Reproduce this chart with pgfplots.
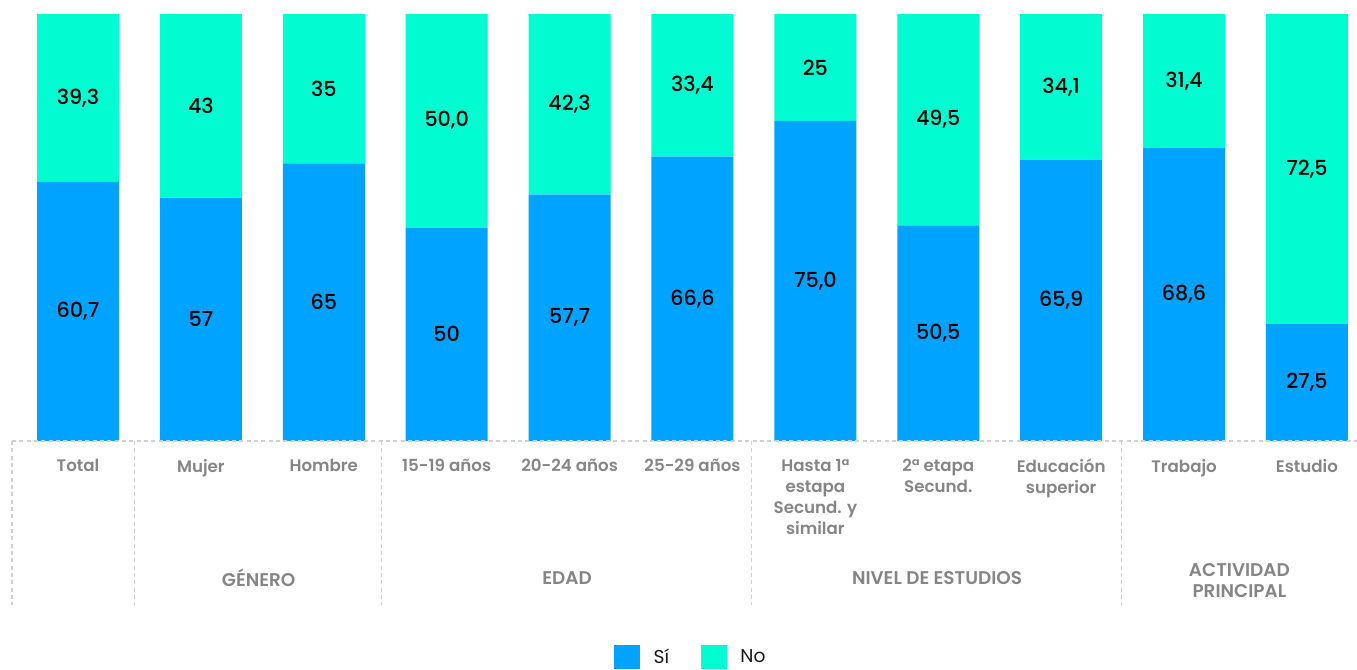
\documentclass[border=0pt]{standalone}
\usepackage{fontspec}
\setmainfont{Poppins}
\newfontfamily\pmed{Poppins Medium}
\newfontfamily\psemi{Poppins SemiBold}
\usepackage{pgfplots}
\usepackage{pgfplotstable}
\pgfplotsset{compat=1.18}
\definecolor{cSi}{HTML}{00A3FF}
\definecolor{cNo}{HTML}{00FCD0}
\definecolor{cLab}{HTML}{858585}
\definecolor{cDash}{HTML}{D0D0D0}

\pgfplotstableread[col sep=comma]{
x,si,silab,no,nolab
0,60.7,{60,7},39.3,{39,3}
1,57,{57},43,{43}
2,65,{65},35,{35}
3,50,{50},50.0,{50,0}
4,57.7,{57,7},42.3,{42,3}
5,66.6,{66,6},33.4,{33,4}
6,75.0,{75,0},25,{25}
7,50.5,{50,5},49.5,{49,5}
8,65.9,{65,9},34.1,{34,1}
9,68.6,{68,6},31.4,{31,4}
10,27.5,{27,5},72.5,{72,5}
}\datatable

\tikzset{
  catlab/.style={anchor=north, align=center, text=cLab, font=\psemi\fontsize{12.5pt}{15.75pt}\selectfont, inner sep=0pt},
  grplab/.style={anchor=center, align=center, text=cLab, font=\psemi\fontsize{13.8pt}{15.75pt}\selectfont, inner sep=0pt},
  dsh/.style={cDash, dash pattern=on 3pt off 2.5pt, line width=0.8pt},
}
\pgfplotsset{
  commonaxis/.style={
    at={(9pt,171pt)}, anchor=south west,
    scale only axis, width=1008.75pt, height=320.25pt,
    xmin=-0.537, xmax=10.407, ymin=0, ymax=100,
    clip=false,
  },
}

\begin{document}
\begin{tikzpicture}
\useasboundingbox (0,0) rectangle (1017.75pt,501.75pt);
\begin{axis}[commonaxis,
  ybar stacked, bar width=0.667,
  axis lines=none,
  legend style={draw=none, at={(0.505,-0.506)}, anchor=center,
    legend columns=2, font=\fontsize{14pt}{16pt}\selectfont,
    /tikz/every odd column/.append style={column sep=8pt},
    /tikz/every even column/.append style={column sep=22pt},
    text=black!90},
  legend image code/.code={\fill[#1] (0pt,-9pt) rectangle (19.5pt,9pt);},
]
\addplot[fill=cSi, draw=none] table[x=x, y=si] {\datatable};
\addlegendentry{Sí}
\addplot[fill=cNo, draw=none] table[x=x, y=no] {\datatable};
\addlegendentry{No}
\end{axis}

\begin{axis}[commonaxis,
  axis lines=none,
  every node near coord/.append style={anchor=center, font=\pmed\fontsize{15.5pt}{18pt}\selectfont, text=black},
]
\addplot[draw=none, mark=none, nodes near coords, point meta=explicit symbolic]
  table[x=x, y expr=\thisrow{si}/2, meta=silab] {\datatable};
\addplot[draw=none, mark=none, nodes near coords, point meta=explicit symbolic]
  table[x=x, y expr=\thisrow{si}+\thisrow{no}/2, meta=nolab] {\datatable};

\draw[dsh] (axis cs:-0.537,0) -- (axis cs:10.407,0);
\draw[dsh] (axis cs:-0.537,0) -- (axis cs:-0.537,-38.4);
\draw[dsh] (axis cs:0.46,0) -- (axis cs:0.46,-38.4);
\draw[dsh] (axis cs:2.47,0) -- (axis cs:2.47,-38.4);
\draw[dsh] (axis cs:5.48,0) -- (axis cs:5.48,-38.4);
\draw[dsh] (axis cs:8.49,0) -- (axis cs:8.49,-38.4);

\node[catlab] at (axis cs:0,-4.2) {Total};
\node[catlab] at (axis cs:1,-4.2) {Mujer};
\node[catlab] at (axis cs:2,-4.2) {Hombre};
\node[catlab] at (axis cs:3,-4.2) {15-19 años};
\node[catlab] at (axis cs:4,-4.2) {20-24 años};
\node[catlab] at (axis cs:5,-4.2) {25-29 años};
\node[catlab] at (axis cs:6,-4.2) {Hasta 1ª\\estapa\\Secund. y\\similar};
\node[catlab] at (axis cs:7,-4.2) {2ª etapa\\Secund.};
\node[catlab] at (axis cs:8,-4.2) {Educación\\superior};
\node[catlab] at (axis cs:9,-4.2) {Trabajo};
\node[catlab] at (axis cs:10,-4.2) {Estudio};

\node[grplab] at (axis cs:1.47,-32.1) {GÉNERO};
\node[grplab] at (axis cs:3.98,-32.1) {EDAD};
\node[grplab] at (axis cs:6.99,-32.1) {NIVEL DE ESTUDIOS};
\node[grplab] at (axis cs:9.45,-32.6) {ACTIVIDAD\\PRINCIPAL};
\end{axis}
\end{tikzpicture}
\end{document}
